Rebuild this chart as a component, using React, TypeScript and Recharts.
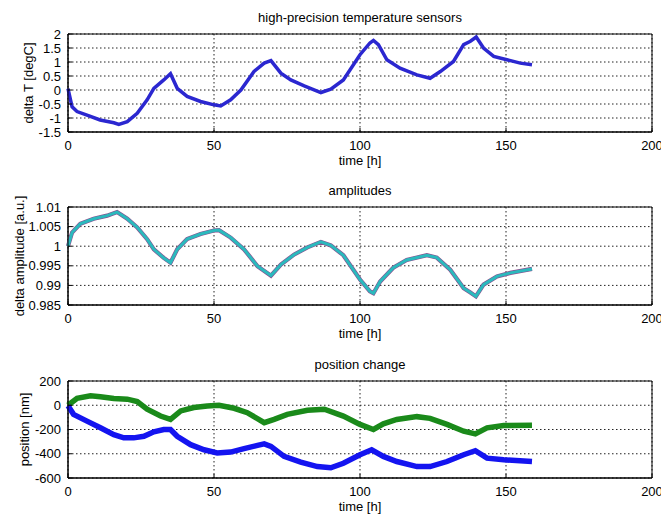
import type { ReactNode } from "react";
import { CartesianGrid, Line, LineChart, ReferenceArea, XAxis, YAxis } from "recharts";

// shared time axis
const hourTicks = [0, 50, 100, 150, 200];

// panel 1: high-precision temperature sensors
const tempHours = [0, 1.4, 3.1, 6.5, 11, 15.7, 17.4, 20.3, 23.7, 27.1, 29.4, 32.8, 35.1, 37.4, 40.8, 45.4, 50, 52.3, 55.7, 59.2, 63.7, 67.2, 69.5, 72.9, 76.3, 80.9, 86.6, 90, 94.3, 100, 103.4, 104.6, 106.3, 109.2, 113.7, 119.5, 124, 127.5, 132, 135.5, 137.8, 139.8, 142.3, 145.8, 150.3, 154.9, 158.9];
const tempDelta = [0.05, -0.6, -0.77, -0.9, -1.07, -1.17, -1.23, -1.13, -0.83, -0.35, 0.06, 0.36, 0.58, 0.06, -0.23, -0.41, -0.53, -0.57, -0.35, 0.0, 0.66, 0.96, 1.05, 0.6, 0.36, 0.15, -0.09, 0.03, 0.36, 1.26, 1.68, 1.77, 1.62, 1.08, 0.78, 0.54, 0.42, 0.66, 1.02, 1.62, 1.74, 1.89, 1.5, 1.2, 1.08, 0.96, 0.9];
const tempTicks = [-1.5, -1, -0.5, 0, 0.5, 1, 1.5, 2];

// panel 2: amplitudes
const ampHours = [0, 1.4, 4.2, 8.8, 13.4, 16.8, 20.3, 23.7, 27.1, 29.4, 32.8, 35.1, 37.4, 40.8, 45.4, 50, 51.7, 55.7, 60.3, 64.9, 69.5, 72.9, 77.5, 82, 86.6, 90, 94.3, 100, 103.4, 104.6, 106.9, 111.4, 116, 122.9, 126.3, 130.9, 135.5, 137.8, 139.7, 142.3, 146.9, 151.5, 158.9];
const ampValues = [1.0, 1.0035, 1.0057, 1.007, 1.0078, 1.0087, 1.007, 1.0048, 1.0018, 0.9992, 0.997, 0.9958, 0.9992, 1.0018, 1.0031, 1.004, 1.0041, 1.0022, 0.9992, 0.9949, 0.9925, 0.9953, 0.9979, 0.9997, 1.0011, 1.0002, 0.9977, 0.9915, 0.9885, 0.988, 0.991, 0.9945, 0.9965, 0.9977, 0.9971, 0.994, 0.9893, 0.9882, 0.9872, 0.9902, 0.9923, 0.9932, 0.9942];
const ampTicks = [0.985, 0.99, 0.995, 1, 1.005, 1.01];

// panel 3: position change (green / blue)
const posHoursGreen = [0, 3.1, 7.7, 11.1, 15.7, 20.3, 23.7, 27.1, 31.7, 35.1, 38.6, 43.1, 47.7, 51.7, 56.9, 61.4, 67.2, 70.6, 75.1, 82, 87.8, 94.3, 100, 104.6, 108, 112.6, 119.5, 124, 129.8, 135.5, 139.5, 143.5, 149.2, 158.9];
const posGreen = [0, 58, 78, 70, 56, 50, 31, -33, -89, -117, -47, -19, -6, 0, -25, -61, -144, -117, -75, -42, -33, -89, -158, -200, -153, -117, -94, -108, -158, -214, -236, -186, -167, -164];
const posHoursBlue = [0, 1.9, 6.5, 11.1, 15.7, 19.1, 22.5, 26, 29.4, 32.8, 35.1, 37.4, 42, 46.6, 51.1, 55.7, 60.3, 64.9, 67.2, 69.5, 74, 79.7, 85.4, 90, 94.3, 100, 104, 108, 112.6, 119.5, 124, 129.8, 135.5, 139.5, 143.5, 149.2, 158.9];
const posBlue = [-5, -75, -131, -186, -242, -269, -269, -256, -219, -200, -200, -256, -325, -367, -394, -386, -358, -331, -319, -339, -422, -469, -506, -516, -478, -408, -367, -422, -464, -506, -506, -464, -408, -375, -436, -450, -464];
const posTicks = [-600, -400, -200, 0, 200];

const zip = (xs: number[], ys: number[]) => xs.map((t, i) => ({ t, v: ys[i] }));

type PanelProps = {
  top: number;
  height: number;
  plotTop: number;
  axisHeight: number;
  title: string;
  yLabel: string;
  labelX: number;
  yTicks: number[];
  children: ReactNode;
};

function Panel({ top, height, plotTop, axisHeight, title, yLabel, labelX, yTicks, children }: PanelProps) {
  const yMin = yTicks[0];
  const yMax = yTicks[yTicks.length - 1];
  return (
    <div style={{ position: "absolute", left: 0, top, width: 661, height }}>
      <div
        style={{
          position: "absolute",
          left: 68,
          width: 584,
          top: plotTop - 24,
          textAlign: "center",
          fontSize: 13,
          lineHeight: "16px",
        }}
      >
        {title}
      </div>
      <LineChart width={661} height={height} margin={{ top: plotTop, right: 9, bottom: 0, left: 0 }}>
        <CartesianGrid stroke="#222" strokeDasharray="1.5 2.5" />
        <XAxis
          dataKey="t"
          type="number"
          domain={[0, 200]}
          ticks={hourTicks}
          interval={0}
          height={axisHeight}
          tickSize={-4}
          tickMargin={13}
          stroke="#000"
          tick={{ fill: "#000", fontSize: 13 }}
          label={{ value: "time [h]", position: "insideTop", offset: 24, fill: "#000", fontSize: 13 }}
        />
        <XAxis xAxisId="top" orientation="top" type="number" domain={[0, 200]} ticks={hourTicks} interval={0} height={0} tickSize={-4} tick={false} stroke="#000" />
        <YAxis
          type="number"
          domain={[yMin, yMax]}
          ticks={yTicks}
          interval={0}
          width={68}
          tickSize={-4}
          tickMargin={11}
          stroke="#000"
          tick={{ fill: "#000", fontSize: 13 }}
          label={{ value: yLabel, angle: -90, position: "center", dx: labelX - 34, fill: "#000", fontSize: 13 }}
        />
        <YAxis yAxisId="right" orientation="right" type="number" domain={[yMin, yMax]} ticks={yTicks} interval={0} width={0} tickSize={-4} tick={false} stroke="#000" />
        <ReferenceArea x1={0} x2={200} y1={yMin} y2={yMax} fill="none" stroke="#000" strokeWidth={1} />
        {children}
      </LineChart>
    </div>
  );
}

export default function App() {
  return (
    <div
      style={{
        position: "absolute",
        left: 0,
        top: 0,
        width: 661,
        height: 517,
        background: "#fff",
        fontFamily: '"Liberation Sans", Arial, sans-serif',
      }}
    >
      <Panel top={0} height={175} plotTop={34} axisHeight={43} title="high-precision temperature sensors" yLabel="delta T [degC]" labelX={28} yTicks={tempTicks}>
        <Line data={zip(tempHours, tempDelta)} dataKey="v" type="linear" stroke="#2b27d0" strokeWidth={3.5} dot={false} isAnimationActive={false} />
      </Panel>
      <Panel top={175} height={175} plotTop={32} axisHeight={45} title="amplitudes" yLabel="delta amplitude [a.u.]" labelX={19} yTicks={ampTicks}>
        <Line data={zip(ampHours, ampValues)} dataKey="v" type="linear" stroke="#8c4f8f" strokeWidth={4.2} dot={false} isAnimationActive={false} />
        <Line data={zip(ampHours, ampValues)} dataKey="v" type="linear" stroke="#2bb9bd" strokeWidth={3} dot={false} isAnimationActive={false} />
      </Panel>
      <Panel top={350} height={167} plotTop={31} axisHeight={39} title="position change" yLabel="position [nm]" labelX={24} yTicks={posTicks}>
        <Line data={zip(posHoursGreen, posGreen)} dataKey="v" type="linear" stroke="#1a8a1a" strokeWidth={5.5} dot={false} isAnimationActive={false} />
        <Line data={zip(posHoursBlue, posBlue)} dataKey="v" type="linear" stroke="#1414f0" strokeWidth={5.5} dot={false} isAnimationActive={false} />
      </Panel>
    </div>
  );
}
